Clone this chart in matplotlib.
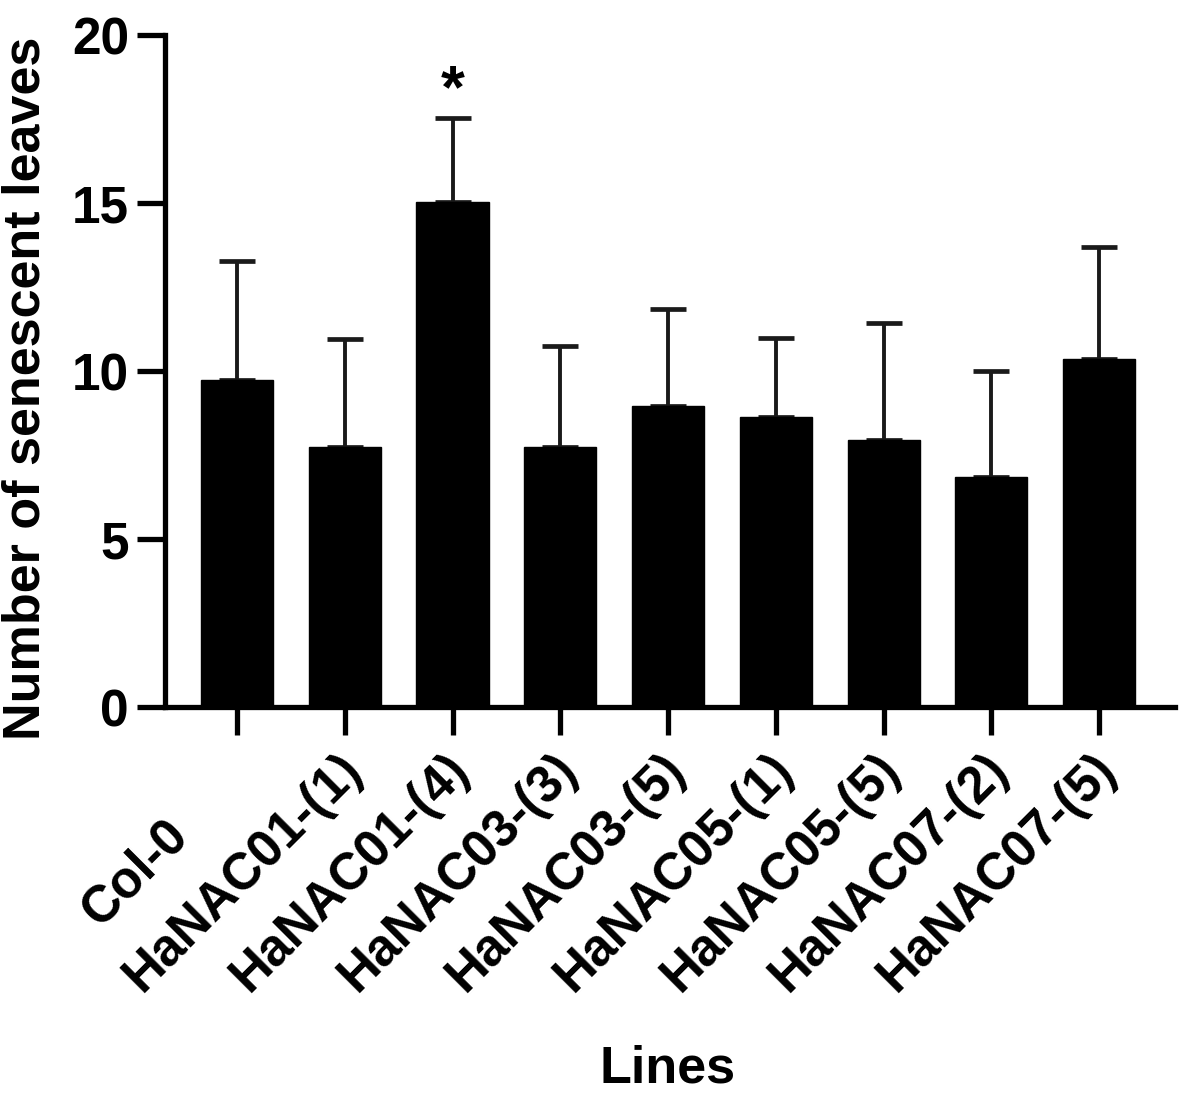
import matplotlib
matplotlib.use('Agg')
from matplotlib import pyplot as plt
import matplotlib.transforms as mtransforms

# values
lines = ['Col-0', 'HaNAC01-(1)', 'HaNAC01-(4)', 'HaNAC03-(3)', 'HaNAC03-(5)',
         'HaNAC05-(1)', 'HaNAC05-(5)', 'HaNAC07-(2)', 'HaNAC07-(5)']
means = [9.75, 7.76, 15.04, 7.76, 8.97, 8.65, 7.96, 6.86, 10.37]
upper = [13.28, 10.97, 17.53, 10.76, 11.86, 11.0, 11.44, 10.01, 13.70]
sd = [u - m for u, m in zip(upper, means)]
stars = {2: '*'}

plt.rcParams['font.family'] = ['Liberation Sans', 'DejaVu Sans']
plt.rcParams['font.weight'] = 'bold'

fig = plt.figure(figsize=(11.79, 10.94), dpi=100)
ax = fig.add_axes([0.140, 0.3533, 0.8567, 0.6147])

x = list(range(len(lines)))
ax.bar(x, means, width=0.67, color='black', edgecolor='black', zorder=2)
ax.errorbar(x, means, yerr=[[0] * len(sd), sd], fmt='none', ecolor='#1a1a1a',
            elinewidth=2.8, capsize=13, capthick=3.4, zorder=1)
for i, s in stars.items():
    ax.text(i, upper[i] - 0.06, s, ha='center', va='bottom', fontsize=44,
            fontweight='bold')

ax.set_xlim(-0.668, 8.705)
ax.set_ylim(0, 20)
ax.set_yticks([0, 5, 10, 15, 20])
ax.set_xticks(x)
ax.set_xticklabels(lines, rotation=45, ha='center', va='center',
                   rotation_mode='anchor')
ax.tick_params(axis='both', width=3.8, length=20, labelsize=37)
ax.tick_params(axis='y', pad=6)
ax.tick_params(axis='x', pad=0)
for lab in ax.get_xticklabels() + ax.get_yticklabels():
    lab.set_fontweight('bold')

# shift rotated labels so their centres sit down-left of the ticks
off = mtransforms.ScaledTranslation(-1.02, -1.37, fig.dpi_scale_trans)
for lab in ax.get_xticklabels():
    lab.set_transform(lab.get_transform() + off)

ax.spines['top'].set_visible(False)
ax.spines['right'].set_visible(False)
ax.spines['left'].set_linewidth(3.8)
ax.spines['bottom'].set_linewidth(3.8)

ax.set_ylabel('Number of senescent leaves', fontsize=37.5, fontweight='bold',
              va='center')
ax.yaxis.set_label_coords(-0.1376, 0.475)
ax.set_xlabel('Lines', fontsize=37.5, fontweight='bold', va='baseline')
ax.xaxis.set_label_coords(0.4975, -0.557)

fig.savefig('out.png', dpi=100)
